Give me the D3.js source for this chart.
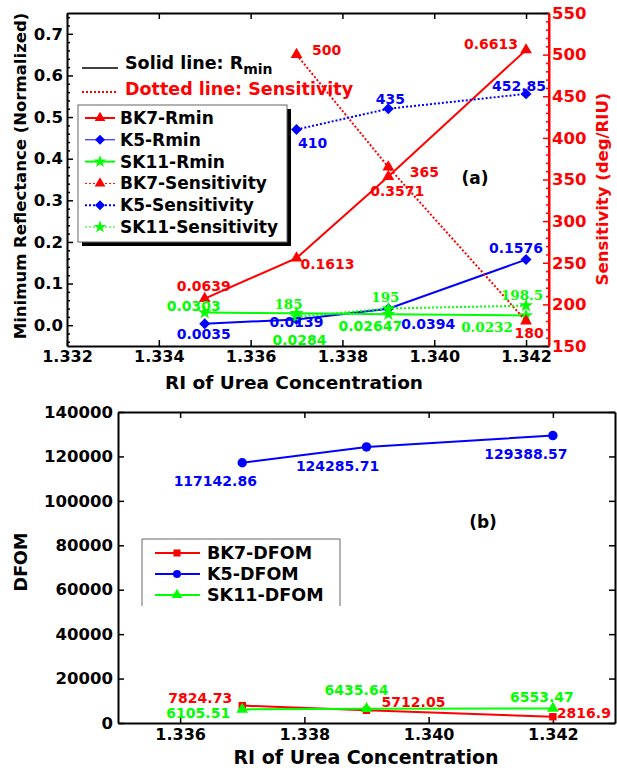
<!DOCTYPE html>
<html><head><meta charset="utf-8">
<script src="https://cdn.jsdelivr.net/npm/d3@7"></script>
<style>
html,body{margin:0;padding:0;background:#fff;}
svg{display:block;}
text{font-family:"DejaVu Sans",sans-serif;font-weight:bold;}
</style></head>
<body>
<script>
// ---------- data ----------
const riTop = [1.335, 1.337, 1.339, 1.342];
const bk7Rmin = [0.0639, 0.1613, 0.3571, 0.6613];
const k5Rmin = [0.0035, 0.0139, 0.0394, 0.1576];
const sk11Rmin = [0.0303, 0.0284, 0.02647, 0.0232];
const riSens = [1.337, 1.339, 1.342];
const bk7Sens = [500, 365, 180];
const k5Sens = [410, 435, 452.85];
const sk11Sens = [185, 195, 198.5];
const riDfom = [1.337, 1.339, 1.342];
const bk7Dfom = [7824.73, 5712.05, 2816.9];
const k5Dfom = [117142.86, 124285.71, 129388.57];
const sk11Dfom = [6105.51, 6435.64, 6553.47];
const xTicksTop = [1.332, 1.334, 1.336, 1.338, 1.340, 1.342];
const yTicksLeft = [0.0, 0.1, 0.2, 0.3, 0.4, 0.5, 0.6, 0.7];
const yTicksRight = [150, 200, 250, 300, 350, 400, 450, 500, 550];
const xTicksBot = [1.336, 1.338, 1.340, 1.342];
const yTicksBot = [0, 20000, 40000, 60000, 80000, 100000, 120000, 140000];

// ---------- setup ----------
const W = 617, H = 770;
const RED = "#ff0000", BLUE = "#0000ff", GREEN = "#00ff00";
const svg = d3.select("body").append("svg").attr("width", W).attr("height", H);

// diamond = square rotated by 45°
const diamondSym = {
  draw(ctx, size) {
    const r = Math.sqrt(size / 2);
    ctx.moveTo(0, -r); ctx.lineTo(r, 0); ctx.lineTo(0, r); ctx.lineTo(-r, 0); ctx.closePath();
  }
};

// top panel scales
const x1 = d3.scaleLinear().domain([1.332, 1.3425]).range([67, 549]);
const yL = d3.scaleLinear().domain([-0.05, 0.75]).range([346, 13]);
const yR = d3.scaleLinear().domain([150, 550]).range([346, 13]);
// bottom panel scales
const x2 = d3.scaleLinear().domain([1.335, 1.343]).range([118, 615]);
const y2 = d3.scaleLinear().domain([0, 140000]).range([723, 412]);

function styleAxis(g, color, size) {
  g.selectAll("path.domain").attr("stroke", color).attr("stroke-width", 2);
  g.selectAll(".tick line").attr("stroke", color).attr("stroke-width", 1.5);
  g.selectAll(".tick text").attr("fill", color)
    .style("font-family", '"DejaVu Sans",sans-serif').style("font-weight", "bold")
    .style("font-size", size + "px");
}

// ---------- top panel axes ----------
const gTop = svg.append("g");
gTop.append("g").attr("transform", "translate(67,0)")
  .call(d3.axisLeft(yL).tickValues(d3.range(-0.04, 0.75, 0.02).filter(v => Math.abs(Math.round(v*50)%5) !== 0)).tickSize(-3).tickFormat(""))
  .call(g => { g.select(".domain").remove(); g.selectAll("line").attr("stroke","#000").attr("stroke-width",1.5); });
gTop.append("g").attr("transform", "translate(67,0)")
  .call(d3.axisLeft(yL).tickValues(yTicksLeft).tickSize(-6).tickSizeOuter(0).tickPadding(4).tickFormat(d3.format(".1f")))
  .call(g => styleAxis(g, "#000", 16.5));
gTop.append("g").attr("transform", "translate(549,0)")
  .call(d3.axisRight(yR).tickValues(d3.range(160, 550, 10).filter(v => v % 50 !== 0)).tickSize(-3).tickFormat(""))
  .call(g => { g.select(".domain").remove(); g.selectAll("line").attr("stroke",RED).attr("stroke-width",1.5); });
gTop.append("g").attr("transform", "translate(549,0)")
  .call(d3.axisRight(yR).tickValues(yTicksRight).tickSize(-6).tickSizeOuter(0).tickPadding(3).tickFormat(d3.format("d")))
  .call(g => styleAxis(g, RED, 16.5));
gTop.append("g").attr("transform", "translate(0,346)")
  .call(d3.axisBottom(x1).tickValues(xTicksTop).tickSize(-6).tickSizeOuter(0).tickPadding(5).tickFormat(d3.format(".3f")))
  .call(g => styleAxis(g, "#000", 16));
gTop.append("g").attr("transform", "translate(0,13)")
  .call(d3.axisTop(x1).tickValues(xTicksTop).tickSize(-6).tickSizeOuter(0).tickFormat(""))
  .call(g => styleAxis(g, "#000", 16));
gTop.append("line").attr("x1",549).attr("x2",549).attr("y1",13).attr("y2",346).attr("stroke",RED).attr("stroke-width",2);

// ---------- bottom panel axes ----------
const gBot = svg.append("g");
gBot.append("g").attr("transform", "translate(118,0)")
  .call(d3.axisLeft(y2).tickValues(yTicksBot).tickSize(-6).tickSizeOuter(0).tickPadding(5).tickFormat(d3.format("d")))
  .call(g => styleAxis(g, "#000", 16.5));
gBot.append("g").attr("transform", "translate(615,0)")
  .call(d3.axisRight(y2).tickValues(yTicksBot).tickSize(-6).tickSizeOuter(0).tickFormat(""))
  .call(g => styleAxis(g, "#000", 16));
gBot.append("g").attr("transform", "translate(0,723)")
  .call(d3.axisBottom(x2).tickValues(xTicksBot).tickSize(-6).tickSizeOuter(0).tickPadding(6).tickFormat(d3.format(".3f")))
  .call(g => styleAxis(g, "#000", 16));
gBot.append("g").attr("transform", "translate(0,412)")
  .call(d3.axisTop(x2).tickValues(xTicksBot).tickSize(-6).tickSizeOuter(0).tickFormat(""))
  .call(g => styleAxis(g, "#000", 16));

// ---------- series ----------
const topSeries = [
  {xs: riTop, ys: bk7Rmin, y: yL, color: RED, sym: d3.symbolTriangle, size: 60, dash: null, w: 2,
   off: [[-1,-13],[31,6],[9,14],[-35,-6]]},
  {xs: riTop, ys: k5Rmin, y: yL, color: BLUE, sym: diamondSym, size: 60, dash: null, w: 2,
   off: [[-1,10],[0,3],[40,15],[-10,-12]]},
  {xs: riTop, ys: sk11Rmin, y: yL, color: GREEN, sym: d3.symbolStar, size: 60, dash: null, w: 2,
   off: [[-11,-7],[3,27],[-18,12],[-39,11]], serif: [false,false,false,true]},
  {xs: riSens, ys: bk7Sens, y: yR, color: RED, sym: d3.symbolTriangle, size: 60, dash: "2,2", w: 2,
   off: [[30,-5],[36,5],[3,12]]},
  {xs: riSens, ys: k5Sens, y: yR, color: BLUE, sym: diamondSym, size: 60, dash: "2,2", w: 2,
   off: [[16,13],[2,-10],[-7,-8]]},
  {xs: riSens, ys: sk11Sens, y: yR, color: GREEN, sym: d3.symbolStar, size: 60, dash: "2,2", w: 2,
   off: [[-8,-13],[-3,-12],[-4,-11]], serif: [true,true,true]}
];
const botSeries = [
  {xs: riDfom, ys: bk7Dfom, y: y2, color: RED, sym: d3.symbolSquare, size: 55, dash: null, w: 2,
   off: [[-42,-8],[47,-8],[31,-4]]},
  {xs: riDfom, ys: k5Dfom, y: y2, color: BLUE, sym: d3.symbolCircle, size: 70, dash: null, w: 2,
   off: [[-27,18],[-29,19],[-27,18]]},
  {xs: riDfom, ys: sk11Dfom, y: y2, color: GREEN, sym: d3.symbolTriangle, size: 60, dash: null, w: 2,
   off: [[-44,4],[-10,-19],[-11,-11]]}
];

function drawSeries(g, s, xs) {
  const pts = s.xs.map((x, i) => [xs(x), s.y(s.ys[i]), s.ys[i], i]);
  g.append("path").datum(pts)
    .attr("d", d3.line().x(d => d[0]).y(d => d[1]))
    .attr("fill", "none").attr("stroke", s.color).attr("stroke-width", s.w)
    .attr("stroke-dasharray", s.dash);
  g.selectAll(null).data(pts).enter().append("path")
    .attr("transform", d => `translate(${d[0]},${d[1]})`)
    .attr("d", d3.symbol().type(s.sym).size(s.size)).attr("fill", s.color);
  return pts;
}
function drawLabels(g, s, pts) {
  g.selectAll(null).data(pts).enter().append("text")
    .attr("x", d => d[0] + s.off[d[3]][0]).attr("y", d => d[1] + s.off[d[3]][1])
    .attr("text-anchor", "middle").attr("dominant-baseline", "central")
    .attr("fill", s.color)
    .style("font-family", d => (s.serif && s.serif[d[3]]) ? '"DejaVu Serif",serif' : '"DejaVu Sans",sans-serif')
    .style("font-size", d => (s.serif && s.serif[d[3]]) ? "13.5px" : "14px")
    .text(d => String(d[2]));
}
const gMarks = svg.append("g");
const topPts = topSeries.map(s => drawSeries(gMarks, s, x1));
const botPts = botSeries.map(s => drawSeries(gMarks, s, x2));
topSeries.forEach((s, i) => drawLabels(gMarks, s, topPts[i]));
botSeries.forEach((s, i) => drawLabels(gMarks, s, botPts[i]));

// ---------- titles ----------
svg.append("text").attr("transform", "translate(26,176) rotate(-90)")
  .attr("text-anchor", "middle").style("font-size", "16.5px").text("Minimum Reflectance (Normalized)");
svg.append("text").attr("transform", "translate(608,189) rotate(-90)")
  .attr("text-anchor", "middle").attr("fill", RED).style("font-size", "16.5px").text("Sensitivity (deg/RIU)");
svg.append("text").attr("x", 294).attr("y", 389).attr("text-anchor", "middle")
  .style("font-size", "18.5px").text("RI of Urea Concentration");
svg.append("text").attr("x", 366).attr("y", 764).attr("text-anchor", "middle")
  .style("font-size", "19px").text("RI of Urea Concentration");
svg.append("text").attr("transform", "translate(27,562) rotate(-90)")
  .attr("text-anchor", "middle").style("font-size", "17.5px").text("DFOM");
svg.append("text").attr("x", 475).attr("y", 184).attr("text-anchor", "middle")
  .style("font-size", "17px").text("(a)");
svg.append("text").attr("x", 483).attr("y", 528).attr("text-anchor", "middle")
  .style("font-size", "17px").text("(b)");

// ---------- line-style note ----------
svg.append("line").attr("x1", 82).attr("x2", 118).attr("y1", 68).attr("y2", 68)
  .attr("stroke", "#000").attr("stroke-width", 1.5);
const t1 = svg.append("text").attr("x", 125).attr("y", 69).style("font-size", "17.5px");
t1.append("tspan").text("Solid line: R");
t1.append("tspan").attr("dy", 5).style("font-size", "14px").text("min");
svg.append("line").attr("x1", 82).attr("x2", 116).attr("y1", 92).attr("y2", 92)
  .attr("stroke", RED).attr("stroke-width", 2).attr("stroke-dasharray", "2,2");
svg.append("text").attr("x", 125).attr("y", 95).attr("fill", RED).style("font-size", "17.5px")
  .text("Dotted line: Sensitivity");

// ---------- legend (a) ----------
const legA = [
  {name: "BK7-Rmin", color: RED, sym: d3.symbolTriangle, dash: null, w: 2},
  {name: "K5-Rmin", color: BLUE, sym: diamondSym, dash: null, w: 1},
  {name: "SK11-Rmin", color: GREEN, sym: d3.symbolStar, dash: null, w: 2},
  {name: "BK7-Sensitivity", color: RED, sym: d3.symbolTriangle, dash: "2,2", w: 1},
  {name: "K5-Sensitivity", color: BLUE, sym: diamondSym, dash: "2,2", w: 2},
  {name: "SK11-Sensitivity", color: GREEN, sym: d3.symbolStar, dash: "2,2", w: 1}
];
const gLA = svg.append("g");
gLA.append("rect").attr("x", 82).attr("y", 109).attr("width", 209).attr("height", 137).attr("fill", "#000");
gLA.append("rect").attr("x", 78).attr("y", 105).attr("width", 209).attr("height", 137)
  .attr("fill", "#fff").attr("stroke", "#666").attr("stroke-width", 1);
legA.forEach((d, i) => {
  const y = 118 + i * 21.8;
  gLA.append("line").attr("x1", 85).attr("x2", 115).attr("y1", y).attr("y2", y)
    .attr("stroke", d.color).attr("stroke-width", d.w).attr("stroke-dasharray", d.dash);
  gLA.append("path").attr("transform", `translate(100,${y})`)
    .attr("d", d3.symbol().type(d.sym).size(50)).attr("fill", d.color);
  gLA.append("text").attr("x", 120).attr("y", y).attr("dominant-baseline", "central")
    .style("font-size", "17px").text(d.name);
});

// ---------- legend (b) ----------
const legB = [
  {name: "BK7-DFOM", color: RED, sym: d3.symbolSquare},
  {name: "K5-DFOM", color: BLUE, sym: d3.symbolCircle},
  {name: "SK11-DFOM", color: GREEN, sym: d3.symbolTriangle}
];
const gLB = svg.append("g");
gLB.append("rect").attr("x", 142).attr("y", 539).attr("width", 198).attr("height", 67).attr("fill", "#fff");
gLB.append("path").attr("d", "M142,606V539H340V606").attr("fill", "none").attr("stroke", "#666").attr("stroke-width", 1);
legB.forEach((d, i) => {
  const y = 553 + i * 21;
  gLB.append("line").attr("x1", 155).attr("x2", 200).attr("y1", y).attr("y2", y)
    .attr("stroke", d.color).attr("stroke-width", 2);
  gLB.append("path").attr("transform", `translate(177,${y})`)
    .attr("d", d3.symbol().type(d.sym).size(50)).attr("fill", d.color);
  gLB.append("text").attr("x", 207).attr("y", y).attr("dominant-baseline", "central")
    .style("font-size", "17.5px").text(d.name);
});
</script>
</body></html>
